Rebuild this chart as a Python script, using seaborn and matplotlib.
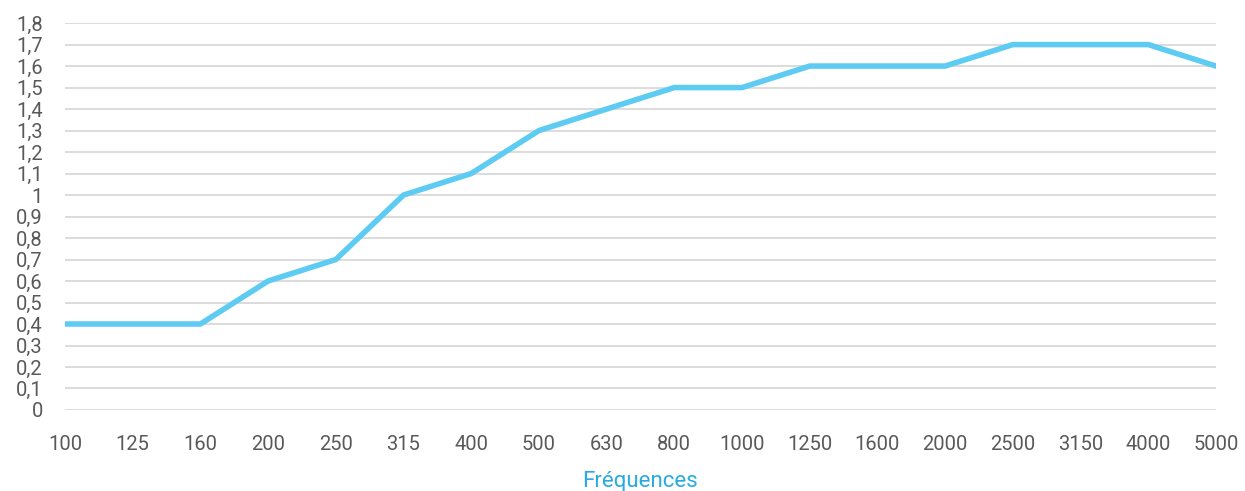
import numpy as np
import matplotlib
matplotlib.use("Agg")
import matplotlib.pyplot as plt
import seaborn as sns

# data
frequencies = ["100", "125", "160", "200", "250", "315", "400", "500", "630",
               "800", "1000", "1250", "1600", "2000", "2500", "3150", "4000", "5000"]
values = [0.4, 0.4, 0.4, 0.6, 0.7, 1.0, 1.1, 1.3, 1.4,
          1.5, 1.5, 1.6, 1.6, 1.6, 1.7, 1.7, 1.7, 1.6]
y_ticks = [round(0.1 * i, 1) for i in range(19)]

sns.set_theme(style="white")
plt.rcParams['font.family'] = ['Roboto', 'DejaVu Sans']

fig = plt.figure(figsize=(12.45, 4.91), dpi=100)
ax = fig.add_axes([0.0522, 0.165, 0.9245, 0.788])

for t in y_ticks:
    ax.axhline(t, color="#d9d9d9", lw=1.3, zorder=0)

pos = np.arange(len(frequencies))
sns.lineplot(x=pos, y=values, ax=ax, color="#5ecbf3", lw=4, zorder=3)

ax.set_xlim(pos[0], pos[-1])
ax.set_ylim(0, 1.8)
ax.set_xticks(pos)
ax.set_xticklabels(frequencies)
ax.set_yticks(y_ticks)
ax.set_yticklabels([("%g" % t).replace(".", ",") for t in y_ticks])
ax.tick_params(axis="both", length=0, labelsize=14.5, colors="#595959")
ax.tick_params(axis="x", pad=18)
ax.tick_params(axis="y", pad=16)
for s in ax.spines.values():
    s.set_visible(False)

ax.set_xlabel("Fréquences", color="#29abe2", fontsize=16, labelpad=12)
ax.set_ylabel("")

fig.savefig("out.png", dpi=100)
